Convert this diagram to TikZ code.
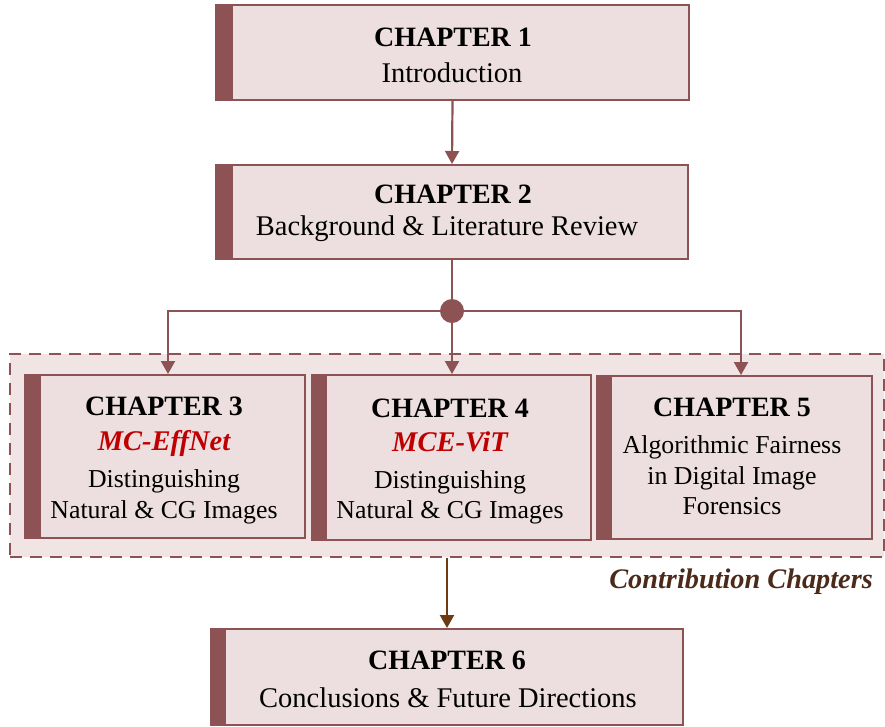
\documentclass[tikz,border=0pt]{standalone}
\usepackage{fontspec}
\setmainfont{Liberation Serif}
\usetikzlibrary{arrows.meta}
\definecolor{bord}{HTML}{8C5254}
\definecolor{boxfill}{HTML}{EDDFDF}
\definecolor{contfill}{HTML}{F0E4E4}
\definecolor{redtxt}{HTML}{C00000}
\definecolor{browntxt}{HTML}{4B2A1A}
\definecolor{brownarr}{HTML}{6E3A12}
\tikzset{
  chbox/.style={draw=bord, fill=boxfill, line width=2pt, inner sep=0pt, anchor=center},
  bar/.style={fill=bord},
  head/.style={anchor=base, inner sep=0pt, font=\fontsize{28}{32}\selectfont\bfseries},
  body/.style={anchor=base, inner sep=0pt, font=\fontsize{28.5}{32}\selectfont},
  bodys/.style={anchor=base, inner sep=0pt, font=\fontsize{25.8}{30}\selectfont},
  model/.style={anchor=base, inner sep=0pt, text=redtxt, font=\fontsize{28.5}{32}\selectfont\bfseries\itshape},
  arr/.style={draw=bord, line width=2.2pt, -{Triangle[length=13pt,width=14pt]}},
  conn/.style={draw=bord, line width=2.2pt},
  brarr/.style={draw=brownarr, line width=2.2pt, -{Triangle[length=13pt,width=14pt]}},
}
\begin{document}
\begin{tikzpicture}[x=1pt,y=-1pt]
\useasboundingbox (0,0) rectangle (885,726);
% container
\node[draw=bord, fill=contfill, line width=2.5pt, dash pattern=on 12pt off 8pt, inner sep=0pt, minimum width=874pt, minimum height=203pt] (cont) at (447,455.5) {};
\node[anchor=base east, inner sep=0pt, text=browntxt, font=\fontsize{28.3}{32}\selectfont\bfseries\itshape] (contlbl) at (873,588) {Contribution Chapters};
% boxes
\node[chbox, minimum width=473pt, minimum height=95pt] (c1) at (452.5,52.5) {};
\fill[bar] (c1.north west) rectangle ([xshift=18pt]c1.south west);
\node[chbox, minimum width=472pt, minimum height=94pt] (c2) at (452,212) {};
\fill[bar] (c2.north west) rectangle ([xshift=18pt]c2.south west);
\node[chbox, minimum width=280pt, minimum height=163pt] (c3) at (165,456.5) {};
\fill[bar] (c3.north west) rectangle ([xshift=17pt]c3.south west);
\node[chbox, minimum width=279pt, minimum height=165pt] (c4) at (451.5,457.5) {};
\fill[bar] (c4.north west) rectangle ([xshift=16pt]c4.south west);
\node[chbox, minimum width=275pt, minimum height=163pt] (c5) at (734.5,457.5) {};
\fill[bar] (c5.north west) rectangle ([xshift=16pt]c5.south west);
\node[chbox, minimum width=472pt, minimum height=96pt] (c6) at (447,677) {};
\fill[bar] (c6.north west) rectangle ([xshift=16pt]c6.south west);
% texts
\node[head] (t1a) at (453,46) {CHAPTER 1};
\node[body] (t1b) at (452,82) {Introduction};
\node[head] (t2a) at (453,203) {CHAPTER 2};
\node[body] (t2b) at (447,235) {Background \& Literature Review};
\node[head] (t3a) at (164,415) {CHAPTER 3};
\node[model] (t3b) at (164,450) {MC-EffNet};
\node[bodys] (t3c) at (164,487) {Distinguishing};
\node[bodys] (t3d) at (164,518) {Natural \& CG Images};
\node[head] (t4a) at (450,417) {CHAPTER 4};
\node[model] (t4b) at (450,451) {MCE-ViT};
\node[bodys] (t4c) at (450,488) {Distinguishing};
\node[bodys] (t4d) at (450,518) {Natural \& CG Images};
\node[head] (t5a) at (732,416) {CHAPTER 5};
\node[bodys] (t5b) at (732,453) {Algorithmic Fairness};
\node[bodys] (t5c) at (732,484) {in Digital Image};
\node[bodys] (t5d) at (732,514) {Forensics};
\node[head] (t6a) at (447,669) {CHAPTER 6};
\node[body] (t6b) at (448,707) {Conclusions \& Future Directions};
% connectors
\draw[arr] (c1.south) -- (c2.north);
\node[circle, fill=bord, inner sep=0pt, minimum size=24pt] (dot) at (452,311) {};
\draw[conn] (c2.south) -- (dot);
\draw[arr] (dot) -| ([xshift=3pt]c3.north);
\draw[arr] (dot) -- (dot |- c4.north);
\draw[arr] (dot) -| ([xshift=6.5pt]c5.north);
\draw[brarr] (cont.south -| c6.north) -- (c6.north);
\end{tikzpicture}
\end{document}
